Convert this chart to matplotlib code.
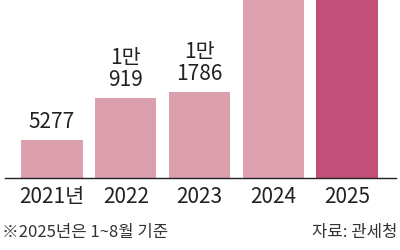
import matplotlib
matplotlib.use("Agg")
import matplotlib.pyplot as plt

plt.rcParams['font.family'] = ['Noto Sans CJK KR', 'DejaVu Sans']

years = ["2021년", "2022", "2023", "2024", "2025"]
values = [5277, 10919, 11786, 30000, 28000]
labels = ["5277", "1만\n919", "1만\n1786", "", ""]
colors = ["#dc9fae", "#dc9fae", "#dc9fae", "#dda1b0", "#c24f78"]

fig = plt.figure(figsize=(4, 2.5), dpi=100)
ax = fig.add_axes([5/400, 72/250, 391/400, 178/250])
x = list(range(len(years)))
bars = ax.bar(x, values, width=0.83, color=colors)
ax.set_xlim(-0.637, 4.664)
ax.set_ylim(0, 24400)
for s in ["top", "left", "right"]:
    ax.spines[s].set_visible(False)
ax.spines["bottom"].set_linewidth(1.0)
ax.spines["bottom"].set_color("#222222")
ax.set_yticks([])
ax.set_xticks(x)
ax.set_xticklabels(years, fontsize=15, color="#222222")
ax.tick_params(axis="x", length=0, pad=6)

for xi, v, lab in zip(x, values, labels):
    if lab:
        ax.annotate(lab, (xi, v), xytext=(0, 5), textcoords="offset points",
                    ha="center", va="bottom", fontsize=15, color="#222222",
                    linespacing=1.0)

fig.text(2/400, 1 - 232/250, "※2025년은 1~8월 기준", fontsize=12, color="#333333",
         ha="left", va="center")
fig.text(397/400, 1 - 232/250, "자료: 관세청", fontsize=12, color="#333333",
         ha="right", va="center")

fig.savefig("out.png", dpi=100)
